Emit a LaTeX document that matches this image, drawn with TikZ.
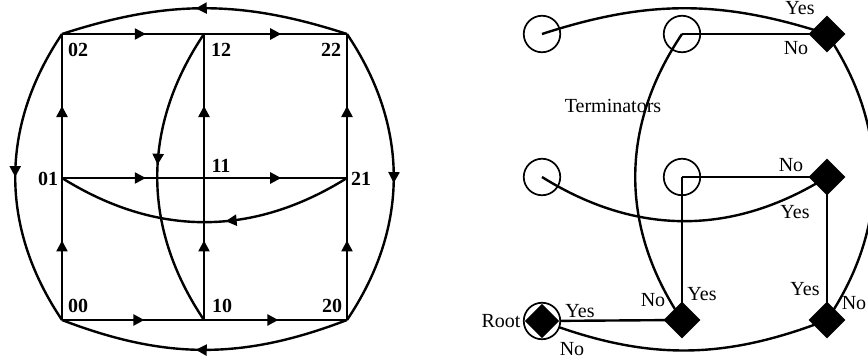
\documentclass[tikz,border=0pt]{standalone}
\usepackage{fontspec}
\setmainfont{Liberation Serif}
\usetikzlibrary{arrows.meta,decorations.markings,shapes.geometric,backgrounds}
\begin{document}
\begin{tikzpicture}[x=1pt,y=1pt,
  edge/.style={line width=2.4pt},
  marr/.style={postaction={decorate},decoration={markings,mark=at position #1 with {\arrow{Triangle[length=11pt,width=11pt]}}}},
  lab/.style={font=\fontsize{20}{24}\selectfont\bfseries, inner sep=0pt},
  txt/.style={font=\fontsize{20}{24}\selectfont, inner sep=0pt},
  term/.style={circle, draw, line width=1.7pt, minimum size=36.5pt, inner sep=0pt},
  dec/.style={diamond, fill=black, minimum width=37pt, minimum height=37pt, inner sep=0pt},
]
\useasboundingbox (0,0) rectangle (868,360);
\clip (0,0) rectangle (868,360);

% ---------- left: grid graph ----------
\coordinate (n02) at (62,326);
\coordinate (n12) at (204,326);
\coordinate (n22) at (347,326);
\coordinate (n01) at (62,182);
\coordinate (n11) at (204,182);
\coordinate (n21) at (347,182);
\coordinate (n00) at (62,40);
\coordinate (n10) at (204,40);
\coordinate (n20) at (347,40);

\draw[edge,marr=0.59] (n02) -- (n12);
\draw[edge,marr=0.54] (n12) -- (n22);
\draw[edge,marr=0.59] (n01) -- (n11);
\draw[edge,marr=0.54] (n11) -- (n21);
\draw[edge,marr=0.58] (n00) -- (n10);
\draw[edge,marr=0.52] (n10) -- (n20);
\draw[edge,marr=0.56] (n00) -- (n01);
\draw[edge,marr=0.50] (n01) -- (n02);
\draw[edge,marr=0.56] (n10) -- (n11);
\draw[edge,marr=0.50] (n11) -- (n12);
\draw[edge,marr=0.56] (n20) -- (n21);
\draw[edge,marr=0.50] (n21) -- (n22);

\draw[edge,marr=0.53] (n22) to[bend right=18] (n02);
\draw[edge,marr=0.53] (n20) to[bend left=21] (n00);
\draw[edge,marr=0.50] (n02) to[bend right=34] (n00);
\draw[edge,marr=0.52] (n22) to[bend left=34] (n20);
\draw[edge,marr=0.43] (n21) to[bend left=32] (n01);
\draw[edge,marr=0.46] (n12) to[bend right=34] (n10);

\node[lab] (l02) at (78,310) {02};
\node[lab] (l12) at (221,310) {12};
\node[lab] (l22) at (331,310) {22};
\node[lab] (l01) at (48,181) {01};
\node[lab] (l11) at (221,194) {11};
\node[lab] (l21) at (361,181) {21};
\node[lab] (l00) at (78,54) {00};
\node[lab] (l10) at (222,54) {10};
\node[lab] (l20) at (332,54) {20};

% ---------- right: decision tree ----------
\node[term] (t1) at (542,326) {};
\node[term] (t2) at (682,326) {};
\node[term] (t3) at (542,183) {};
\node[term] (t4) at (682,183) {};
\node[dec] (d1) at (827,326) {};
\node[dec] (d2) at (827,183) {};
\node[dec] (d3) at (682,40) {};
\node[dec] (d4) at (827,40) {};
\node[term, fill=white] (root) at (542,39) {};
\node[dec, minimum width=34.5pt, minimum height=34.5pt] (rootd) at (542,39) {};

\begin{pgfonlayer}{background}
\draw[edge] (t1.center) to[bend left=18] (d1.center);
\draw[edge] (t2.center) -- (d1.center);
\draw[edge] (t2.center) to[bend right=34] (d3.center);
\draw[edge] (d1.center) to[bend left=34] (d4.center);
\draw[edge] (t3.center) to[bend right=32] (d2.center);
\draw[edge] (t4.center) -- (d2.center);
\draw[edge] (t4.center) -- (d3.center);
\draw[edge] (d2.center) -- (d4.center);
\draw[edge] (root.center) -- (d3.center);
\draw[edge] (root.center) to[bend right=21] (d4.center);
\end{pgfonlayer}

\node[txt] (y1) at (800,352) {Yes};
\node[txt] (n1) at (796,312) {No};
\node[txt] (term) at (613,254) {Terminators};
\node[txt] (n2) at (791,195) {No};
\node[txt] (y2) at (795,148) {Yes};
\node[txt] (n3) at (653,60) {No};
\node[txt] (y3) at (702,66) {Yes};
\node[txt] (y4) at (805,71) {Yes};
\node[txt] (n4) at (854,57) {No};
\node[txt] (y5) at (580,49) {Yes};
\node[txt] (n5) at (572,11) {No};
\node[txt] (rl) at (501,39) {Root};
\end{tikzpicture}
\end{document}
